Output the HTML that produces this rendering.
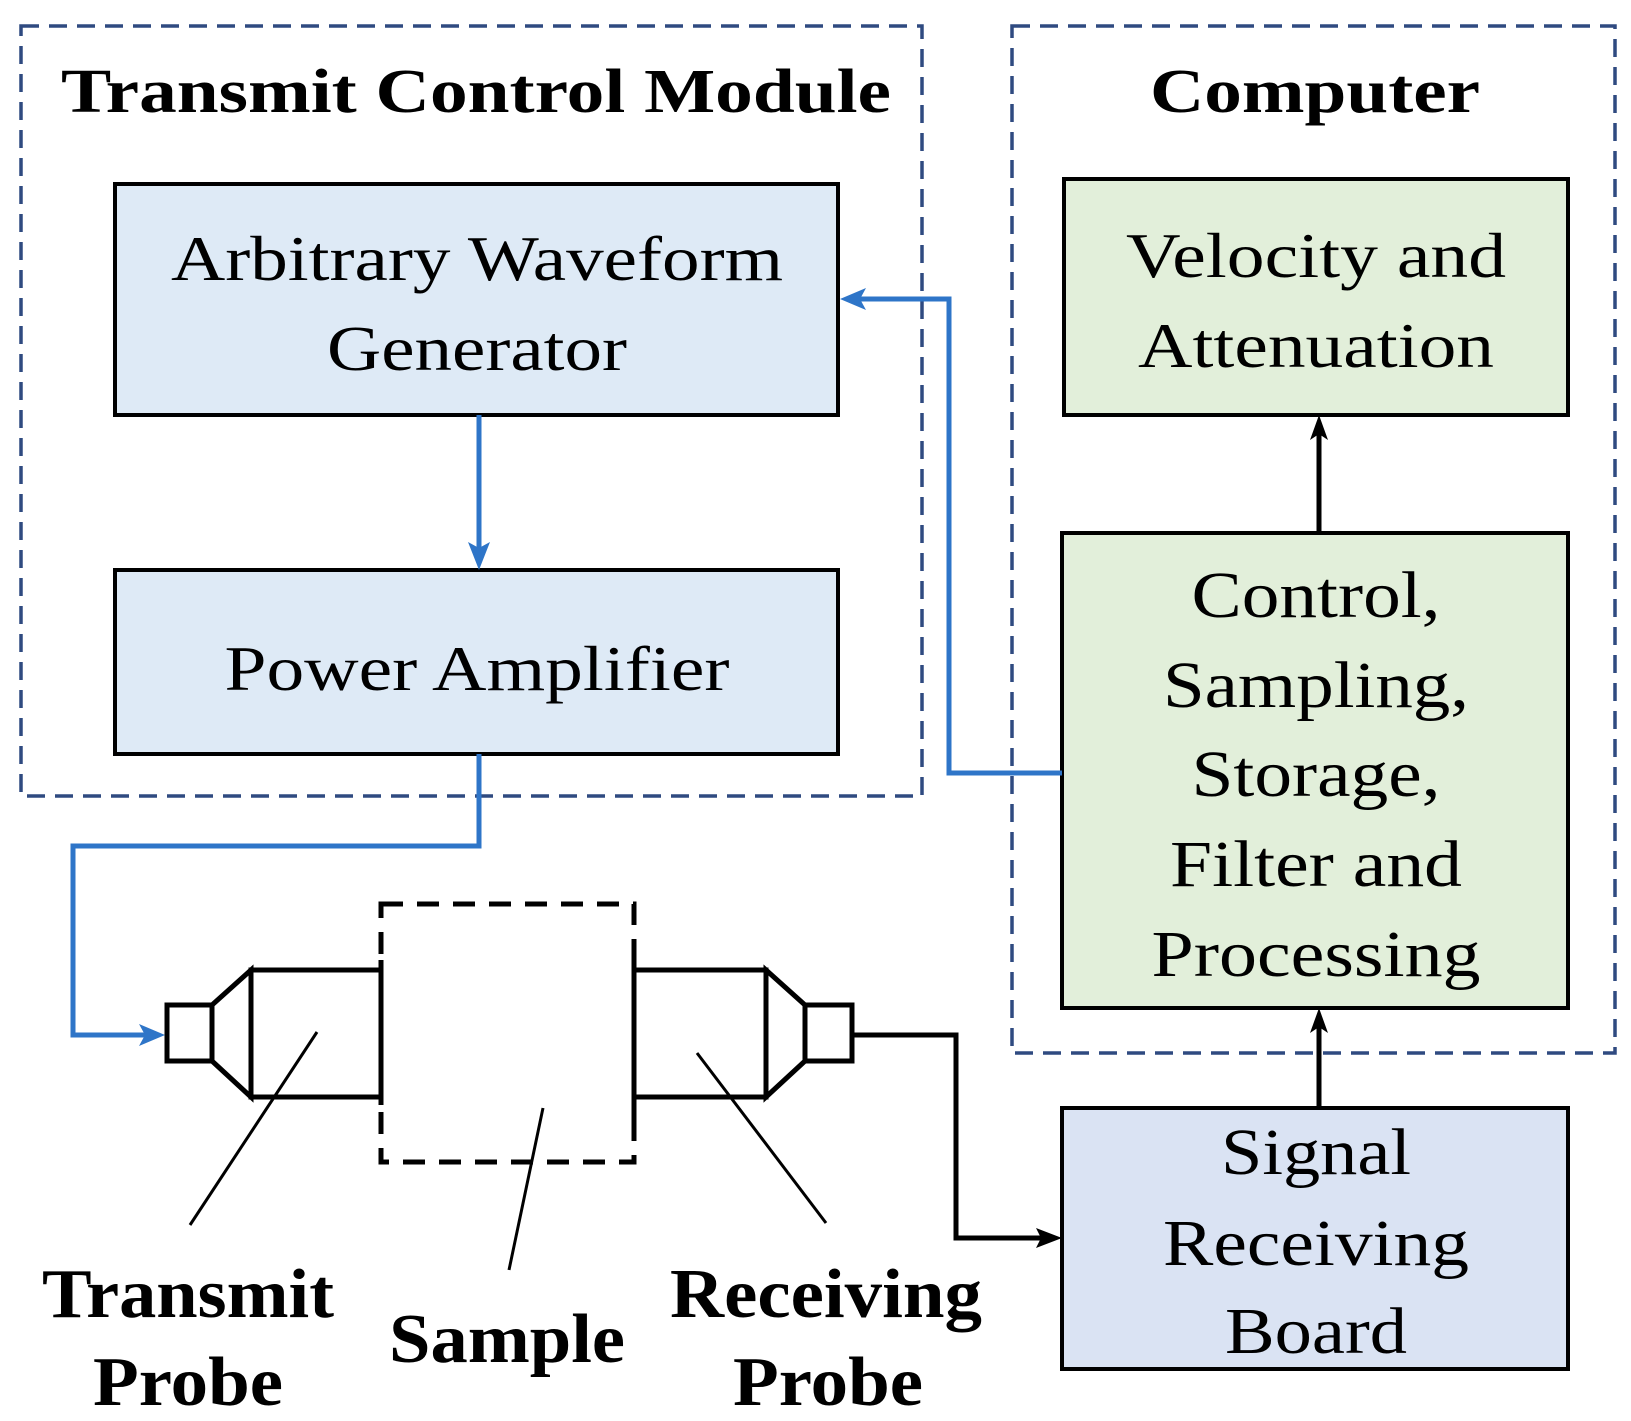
<!DOCTYPE html>
<html><head><meta charset="utf-8"><style>
html,body{margin:0;padding:0;background:#fff;}
svg{display:block;}
text{font-family:"Liberation Serif",serif;fill:#000;}
</style></head><body>
<svg width="1631" height="1421" viewBox="0 0 1631 1421" xmlns="http://www.w3.org/2000/svg">
<rect x="21" y="26" width="901" height="770" fill="none" stroke="#2f4a80" stroke-width="3.5" stroke-dasharray="18,10"/>
<rect x="1012" y="26" width="603" height="1027" fill="none" stroke="#2f4a80" stroke-width="3.5" stroke-dasharray="18,10"/>

<text x="476" y="112" font-size="62" font-weight="bold" text-anchor="middle" textLength="830" lengthAdjust="spacingAndGlyphs">Transmit Control Module</text>
<text x="1315" y="112" font-size="62" font-weight="bold" text-anchor="middle" textLength="330" lengthAdjust="spacingAndGlyphs">Computer</text>

<rect x="115" y="184" width="723" height="231" fill="#deeaf6" stroke="#000" stroke-width="4"/>
<text x="477" y="280" font-size="64" text-anchor="middle" textLength="612" lengthAdjust="spacingAndGlyphs">Arbitrary Waveform</text>
<text x="477" y="370" font-size="64" text-anchor="middle" textLength="300" lengthAdjust="spacingAndGlyphs">Generator</text>

<rect x="115" y="570" width="723" height="184" fill="#deeaf6" stroke="#000" stroke-width="4"/>
<text x="477" y="690" font-size="64" text-anchor="middle" textLength="505" lengthAdjust="spacingAndGlyphs">Power Amplifier</text>

<rect x="1064" y="179" width="504" height="236" fill="#e2efda" stroke="#000" stroke-width="4"/>
<text x="1316" y="277" font-size="64" text-anchor="middle" textLength="380" lengthAdjust="spacingAndGlyphs">Velocity and</text>
<text x="1316" y="367" font-size="64" text-anchor="middle" textLength="356" lengthAdjust="spacingAndGlyphs">Attenuation</text>

<rect x="1062" y="533" width="506" height="475" fill="#e2efda" stroke="#000" stroke-width="4"/>
<g font-size="66" text-anchor="middle" lengthAdjust="spacingAndGlyphs">
<text x="1316" y="617" textLength="249" lengthAdjust="spacingAndGlyphs">Control,</text>
<text x="1316" y="707" textLength="306" lengthAdjust="spacingAndGlyphs">Sampling,</text>
<text x="1316" y="796" textLength="249" lengthAdjust="spacingAndGlyphs">Storage,</text>
<text x="1316" y="886" textLength="292" lengthAdjust="spacingAndGlyphs">Filter and</text>
<text x="1316" y="976" textLength="329" lengthAdjust="spacingAndGlyphs">Processing</text>
</g>

<rect x="1062" y="1108" width="506" height="261" fill="#dae3f3" stroke="#000" stroke-width="4"/>
<g font-size="66" text-anchor="middle">
<text x="1316" y="1174" textLength="190" lengthAdjust="spacingAndGlyphs">Signal</text>
<text x="1316" y="1265" textLength="306" lengthAdjust="spacingAndGlyphs">Receiving</text>
<text x="1316" y="1353" textLength="182" lengthAdjust="spacingAndGlyphs">Board</text>
</g>

<g fill="none" stroke="#2e75c8" stroke-width="5">
<polyline points="479,415 479,552"/>
<polyline points="1062,773 949,773 949,299 856,299"/>
<polyline points="479,754 479,846 73,846 73,1035 150,1035"/>
</g>
<g fill="#2e75c8">
<path d="M479,570 L468,542 L479,548 L490,542 z"/>
<path d="M840,299 L866,288 L860,299 L866,310 z"/>
<path d="M165,1035 L139,1024 L145,1035 L139,1046 z"/>
</g>

<line x1="1319" y1="533" x2="1319" y2="430" stroke="#000" stroke-width="5"/>
<path d="M1319,415 L1328,440 L1319,434 L1310,440 z" fill="#000"/>
<line x1="1319" y1="1108" x2="1319" y2="1022" stroke="#000" stroke-width="5"/>
<path d="M1319,1008 L1328,1033 L1319,1027 L1310,1033 z" fill="#000"/>
<polyline points="852,1035 956,1035 956,1238 1048,1238" fill="none" stroke="#000" stroke-width="5"/>
<path d="M1062,1238 L1036,1228 L1041,1238 L1036,1248 z" fill="#000"/>

<rect x="381" y="904" width="253" height="258" fill="none" stroke="#000" stroke-width="5" stroke-dasharray="22,14"/>
<g fill="none" stroke="#000" stroke-width="5">
<rect x="167" y="1005" width="45" height="56" fill="#fff"/>
<polygon points="212,1005 251,970 251,1097 212,1061" fill="#fff"/>
<polyline points="381,970 251,970 251,1097 381,1097"/>
<line x1="381" y1="960" x2="381" y2="1105"/>
<rect x="805" y="1005" width="47" height="56" fill="#fff"/>
<polygon points="805,1005 766,970 766,1097 805,1061" fill="#fff"/>
<polyline points="634,970 766,970 766,1097 634,1097"/>
<line x1="634" y1="945" x2="634" y2="1120"/>
</g>
<g stroke="#000" stroke-width="3">
<line x1="317" y1="1032" x2="190" y2="1225"/>
<line x1="543" y1="1108" x2="509" y2="1270"/>
<line x1="697" y1="1053" x2="826" y2="1223"/>
</g>
<g font-weight="bold" font-size="70" text-anchor="middle">
<text x="188" y="1317" textLength="292" lengthAdjust="spacingAndGlyphs">Transmit</text>
<text x="188" y="1405" textLength="190" lengthAdjust="spacingAndGlyphs">Probe</text>
<text x="507" y="1362" textLength="236" lengthAdjust="spacingAndGlyphs">Sample</text>
<text x="826" y="1317" textLength="312" lengthAdjust="spacingAndGlyphs">Receiving</text>
<text x="828" y="1405" textLength="190" lengthAdjust="spacingAndGlyphs">Probe</text>
</g>
</svg>
</body></html>
